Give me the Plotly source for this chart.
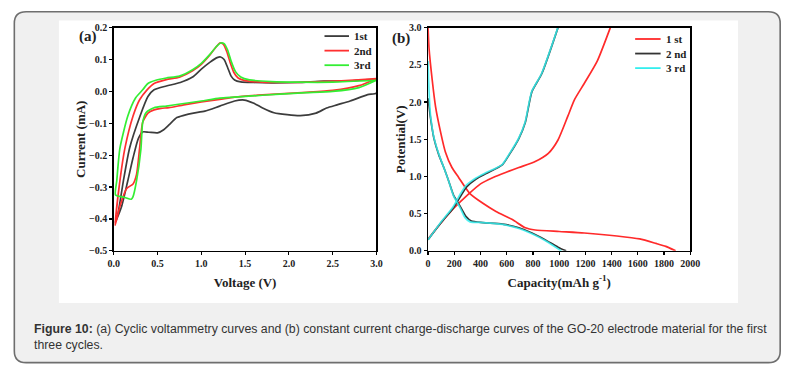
import plotly.graph_objects as go

W, H = 799, 373

# ---------------- data: (a) cyclic voltammetry ----------------
cv_names = ["1st", "2nd", "3rd"]
cv_colors = ["#3c3c3c", "#ff3030", "#33ee33"]

v_1st = [0.02, 0.05, 0.11, 0.18, 0.30, 0.39, 0.46, 0.60, 0.76, 0.90,
         1.00, 1.10, 1.18, 1.22, 1.26, 1.30, 1.34, 1.38, 1.45, 1.60,
         1.80, 2.10, 2.40, 2.70, 3.00,
         3.00, 2.90, 2.70, 2.55, 2.43, 2.31, 2.13, 1.98, 1.83, 1.70,
         1.60, 1.49, 1.38, 1.21, 1.04, 0.91, 0.80, 0.72, 0.63, 0.57,
         0.50, 0.40, 0.33, 0.28, 0.22, 0.16, 0.09, 0.02]
i_1st = [-0.41, -0.38, -0.28, -0.178, -0.077, -0.016, 0.005, 0.017, 0.028, 0.045,
         0.070, 0.092, 0.106, 0.108, 0.100, 0.075, 0.048, 0.036, 0.030, 0.028,
         0.027, 0.028, 0.032, 0.033, 0.035,
         -0.005, -0.010, -0.030, -0.042, -0.052, -0.068, -0.076, -0.073, -0.067, -0.052,
         -0.037, -0.027, -0.030, -0.046, -0.062, -0.068, -0.075, -0.082, -0.105, -0.120,
         -0.130, -0.128, -0.127, -0.148, -0.208, -0.28, -0.36, -0.41]

v_2nd = [0.015, 0.07, 0.127, 0.22, 0.295, 0.38, 0.46, 0.60, 0.75, 0.90,
         1.00, 1.10, 1.17, 1.21, 1.25, 1.29, 1.33, 1.37, 1.42, 1.50,
         1.70, 2.00, 2.30, 2.60, 3.00,
         3.00, 2.80, 2.50, 2.20, 2.00, 1.70, 1.38, 1.21, 1.00, 0.80,
         0.63, 0.54, 0.46, 0.39, 0.33, 0.295, 0.26, 0.22, 0.145, 0.07, 0.015]
i_2nd = [-0.42, -0.28, -0.178, -0.077, -0.026, 0.005, 0.025, 0.037, 0.045, 0.065,
         0.085, 0.115, 0.140, 0.152, 0.148, 0.125, 0.090, 0.060, 0.042, 0.034,
         0.029, 0.028, 0.030, 0.033, 0.040,
         0.040, 0.018, 0.003, -0.003, -0.006, -0.011, -0.018, -0.025, -0.033, -0.042,
         -0.051, -0.053, -0.058, -0.068, -0.097, -0.178, -0.26, -0.29, -0.305, -0.36, -0.42]

v_3rd = [0.02, 0.034, 0.07, 0.16, 0.25, 0.33, 0.39, 0.48, 0.60, 0.75,
         0.90, 1.00, 1.10, 1.17, 1.22, 1.26, 1.30, 1.34, 1.39, 1.45,
         1.55, 1.80, 2.10, 2.50, 3.00,
         3.00, 2.80, 2.50, 2.20, 2.00, 1.70, 1.38, 1.21, 1.00, 0.72,
         0.60, 0.46, 0.37, 0.33, 0.31, 0.26, 0.22, 0.20, 0.12, 0.02]
i_3rd = [-0.325, -0.28, -0.178, -0.077, -0.02, 0.005, 0.025, 0.035, 0.042, 0.048,
         0.068, 0.088, 0.117, 0.140, 0.152, 0.150, 0.130, 0.095, 0.062, 0.045,
         0.036, 0.031, 0.029, 0.029, 0.035,
         0.035, 0.012, 0.000, -0.004, -0.007, -0.012, -0.018, -0.021, -0.030, -0.041,
         -0.046, -0.051, -0.066, -0.097, -0.18, -0.28, -0.33, -0.338, -0.332, -0.325]

cv_v = [v_1st, v_2nd, v_3rd]
cv_i = [i_1st, i_2nd, i_3rd]

# ---------------- data: (b) charge-discharge ----------------
gcd_names = ["1 st", "2 nd", "3 rd"]
gcd_colors = ["#ff2a2a", "#333333", "#33eeee"]

dis1_c = [0, 7, 32, 57, 95, 132, 182, 232, 319, 418, 518, 643, 742, 817,
          1000, 1191, 1440, 1614, 1738, 1813, 1888]
dis1_p = [3.0, 2.73, 2.29, 1.94, 1.60, 1.33, 1.12, 0.99, 0.77, 0.64, 0.53, 0.42, 0.31, 0.28,
          0.26, 0.24, 0.20, 0.16, 0.10, 0.06, 0.0]
chg1_c = [0, 100, 200, 300, 400, 500, 600, 692, 817, 917, 991, 1066, 1116, 1191, 1290, 1390]
chg1_p = [0.16, 0.38, 0.58, 0.75, 0.90, 0.99, 1.06, 1.12, 1.20, 1.31, 1.49, 1.81, 2.03, 2.25, 2.55, 3.0]

dis2_c = [0, 7, 20, 45, 82, 120, 157, 194, 244, 290, 330, 418, 568, 692, 792, 892, 991, 1053]
dis2_p = [2.05, 1.95, 1.77, 1.51, 1.29, 1.12, 0.94, 0.75, 0.60, 0.46, 0.40, 0.38, 0.36, 0.31, 0.24, 0.15, 0.05, 0.0]
chg2_c = [0, 100, 194, 250, 294, 369, 443, 568, 618, 692, 742, 792, 867, 991]
chg2_p = [0.15, 0.38, 0.58, 0.74, 0.86, 0.97, 1.04, 1.16, 1.29, 1.51, 1.73, 2.14, 2.38, 3.0]

dis3_c = [0, 4, 10, 20, 45, 82, 120, 157, 194, 244, 280, 320, 418, 568, 692, 792, 892, 1016]
dis3_p = [2.55, 2.30, 2.05, 1.80, 1.52, 1.30, 1.12, 0.94, 0.74, 0.58, 0.45, 0.39, 0.38, 0.355, 0.30, 0.23, 0.14, 0.0]
chg3_c = [0, 100, 190, 245, 290, 365, 440, 565, 615, 690, 740, 790, 865, 990]
chg3_p = [0.15, 0.39, 0.59, 0.76, 0.88, 0.98, 1.05, 1.16, 1.29, 1.51, 1.73, 2.14, 2.38, 3.0]

gcd_dis = [(dis1_c, dis1_p), (dis2_c, dis2_p), (dis3_c, dis3_p)]
gcd_chg = [(chg1_c, chg1_p), (chg2_c, chg2_p), (chg3_c, chg3_p)]

cv_xticks = [0.0, 0.5, 1.0, 1.5, 2.0, 2.5, 3.0]
cv_yticks = [-0.5, -0.4, -0.3, -0.2, -0.1, 0.0, 0.1, 0.2]
gcd_xticks = list(range(0, 2001, 200))
gcd_yticks = [0.0, 0.5, 1.0, 1.5, 2.0, 2.5, 3.0]

caption = ("<b>Figure 10:</b> (a) Cyclic voltammetry curves and (b) constant current "
           "charge-discharge curves of the GO-20 electrode material for the first<br>three cycles.")

# ---------------- layout helpers (pixel -> paper) ----------------
def X(px):
    return px / W

def Y(py):
    return 1 - py / H

SERIF = "Liberation Serif"
fig = go.Figure()

for k in range(3):
    fig.add_trace(go.Scatter(x=cv_v[k], y=cv_i[k], mode="lines", name=cv_names[k],
                             line=dict(color=cv_colors[k], width=1.7, shape="spline", smoothing=0.6),
                             xaxis="x", yaxis="y", showlegend=False, hoverinfo="skip"))
for k in range(3):
    for c, p in (gcd_dis[k], gcd_chg[k]):
        fig.add_trace(go.Scatter(x=c, y=p, mode="lines", name=gcd_names[k],
                                 line=dict(color=gcd_colors[k], width=1.7, shape="spline", smoothing=0.6),
                                 opacity=0.85 if k == 2 else 1.0,
                                 xaxis="x2", yaxis="y2", showlegend=False, hoverinfo="skip"))

axis_common = dict(showline=True, linecolor="black", linewidth=1.5, mirror=True,
                   ticks="outside", ticklen=3, tickwidth=1.2, tickcolor="black",
                   showgrid=False, zeroline=False,
                   tickfont=dict(family=SERIF, size=10, color="#222", weight="bold"))

shapes = []
# outer rounded box
r = 12
x0, y0, x1, y1 = 8.5, 6, 790, 367.5
path = (f"M {X(x0+r)},{Y(y0)} L {X(x1-r)},{Y(y0)} Q {X(x1)},{Y(y0)} {X(x1)},{Y(y0+r)} "
        f"L {X(x1)},{Y(y1-r)} Q {X(x1)},{Y(y1)} {X(x1-r)},{Y(y1)} "
        f"L {X(x0+r)},{Y(y1)} Q {X(x0)},{Y(y1)} {X(x0)},{Y(y1-r)} "
        f"L {X(x0)},{Y(y0+r)} Q {X(x0)},{Y(y0)} {X(x0+r)},{Y(y0)} Z")
shapes.append(dict(type="path", xref="paper", yref="paper", path=path,
                   fillcolor="#f0f0f0", line=dict(color="#6e6e6e", width=1.6), layer="below"))
# white panel
shapes.append(dict(type="rect", xref="paper", yref="paper", x0=X(54), x1=X(747), y0=Y(306), y1=Y(15),
                   fillcolor="white", line=dict(width=0), layer="below"))

annotations = []
# legends (glyphs + labels)
def legend(x_line0, x_line1, ys, names, colors):
    for yy, nm, col in zip(ys, names, colors):
        shapes.append(dict(type="line", xref="paper", yref="paper", x0=X(x_line0), x1=X(x_line1),
                           y0=Y(yy), y1=Y(yy), line=dict(color=col, width=1.8)))
        annotations.append(dict(x=X(x_line1 + 3), y=Y(yy), xref="paper", yref="paper",
                                text=nm, showarrow=False, xanchor="left", yanchor="middle",
                                font=dict(family=SERIF, size=11, color="#222", weight="bold")))

legend(325, 350, [31, 46, 61], cv_names, cv_colors)
legend(642, 668, [34, 49, 64], gcd_names, gcd_colors)

annotations.append(dict(x=X(72), y=Y(31), xref="paper", yref="paper", text="(a)", showarrow=False,
                        xanchor="left", yanchor="middle",
                        font=dict(family=SERIF, size=15, color="#222", weight="bold")))
annotations.append(dict(x=X(392), y=Y(33), xref="paper", yref="paper", text="(b)", showarrow=False,
                        xanchor="left", yanchor="middle",
                        font=dict(family=SERIF, size=15, color="#222", weight="bold")))
annotations.append(dict(x=X(27), y=Y(324), xref="paper", yref="paper", text=caption, showarrow=False,
                        xanchor="left", yanchor="top", align="left",
                        font=dict(family="Liberation Sans", size=12.3, color="#333")))

title_font = dict(family=SERIF, size=13, color="#222", weight="bold")
fig.update_layout(
    width=W, height=H, margin=dict(l=0, r=0, t=0, b=0),
    paper_bgcolor="white", plot_bgcolor="rgba(0,0,0,0)",
    showlegend=False, hovermode=False,
    xaxis=dict(domain=[X(110), X(378)], range=[0, 3.0], tickvals=cv_xticks, tickformat=".1f",
               anchor="y", title=dict(text="Voltage (V)", font=title_font, standoff=9), **axis_common),
    yaxis=dict(domain=[Y(252.3), Y(22.3)], range=[-0.5, 0.2], tickvals=cv_yticks, tickformat=".1f",
               anchor="x", title=dict(text="Current (mA)", font=title_font, standoff=0), **axis_common),
    xaxis2=dict(domain=[X(430.7), X(698.3)], range=[0, 2000], tickvals=gcd_xticks,
                anchor="y2", title=dict(text="Capacity(mAh g<sup>-1</sup>)", font=title_font, standoff=9),
                **axis_common),
    yaxis2=dict(domain=[Y(252.3), Y(22.3)], range=[0, 3.0], tickvals=gcd_yticks, tickformat=".1f",
                anchor="x2", title=dict(text="Potential(V)", font=title_font, standoff=0), **axis_common),
    shapes=shapes, annotations=annotations,
)

fig.write_html("out.html", config={"displayModeBar": False, "staticPlot": True},
               post_script="document.body.style.margin='0';document.body.style.overflow='hidden';")
